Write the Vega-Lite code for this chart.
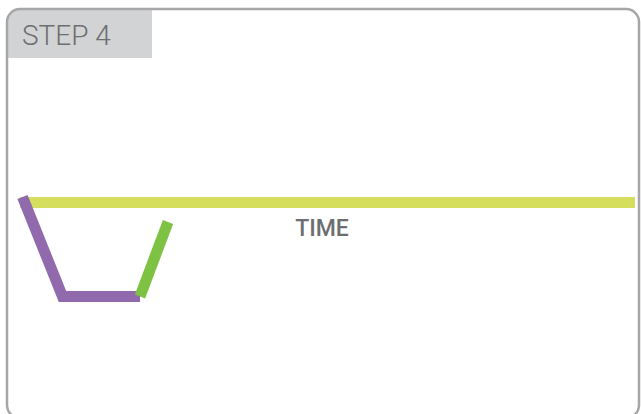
{
  "$schema": "https://vega.github.io/schema/vega-lite/v6.json",
  "width": 641,
  "height": 414,
  "padding": 0,
  "autosize": {"type": "none"},
  "background": "white",
  "config": {"view": {"stroke": null}},
  "datasets": {
    "shapes": [
      {"name": "tab", "x": 7, "x2": 152, "y": 9, "y2": 58},
      {"name": "frame", "x": 7, "x2": 639, "y": 9, "y2": 418}
    ],
    "lines": [
      {"series": "baseline", "order": 1, "x": 20, "y": 202.5},
      {"series": "baseline", "order": 2, "x": 635, "y": 202.5},
      {"series": "down", "order": 1, "x": 22.5, "y": 197},
      {"series": "down", "order": 2, "x": 62.5, "y": 296.5},
      {"series": "down", "order": 3, "x": 140, "y": 296.5},
      {"series": "up", "order": 1, "x": 140, "y": 296.5},
      {"series": "up", "order": 2, "x": 168, "y": 222}
    ],
    "labels": [
      {"label": "STEP 4", "x": 22, "y": 45, "kind": "step"},
      {"label": "TIME", "x": 322, "y": 236, "kind": "axis"}
    ]
  },
  "encoding": {
    "x": {"field": "x", "type": "quantitative", "scale": {"domain": [0, 641]}, "axis": null},
    "y": {"field": "y", "type": "quantitative", "scale": {"domain": [0, 414], "reverse": true}, "axis": null}
  },
  "layer": [
    {
      "data": {"name": "shapes"},
      "transform": [{"filter": "datum.name === 'tab'"}],
      "mark": {"type": "rect", "fill": "#d1d3d4", "cornerRadiusTopLeft": 12},
      "encoding": {"x2": {"field": "x2"}, "y2": {"field": "y2"}}
    },
    {
      "data": {"name": "shapes"},
      "transform": [{"filter": "datum.name === 'frame'"}],
      "mark": {"type": "rect", "fill": null, "fillOpacity": 0, "stroke": "#a7a7a9", "strokeWidth": 2.5, "cornerRadius": 13},
      "encoding": {"x2": {"field": "x2"}, "y2": {"field": "y2"}}
    },
    {
      "data": {"name": "lines"},
      "transform": [{"filter": "datum.series === 'baseline'"}],
      "mark": {"type": "line", "color": "#d5df5d", "strokeWidth": 11, "strokeCap": "butt"},
      "encoding": {"order": {"field": "order", "type": "quantitative"}}
    },
    {
      "data": {"name": "lines"},
      "transform": [{"filter": "datum.series === 'down'"}],
      "mark": {"type": "line", "color": "#9169ad", "strokeWidth": 11, "strokeCap": "butt", "strokeJoin": "miter"},
      "encoding": {"order": {"field": "order", "type": "quantitative"}}
    },
    {
      "data": {"name": "lines"},
      "transform": [{"filter": "datum.series === 'up'"}],
      "mark": {"type": "line", "color": "#7dc242", "strokeWidth": 11, "strokeCap": "butt"},
      "encoding": {"order": {"field": "order", "type": "quantitative"}}
    },
    {
      "data": {"name": "labels"},
      "transform": [{"filter": "datum.kind === 'step'"}],
      "mark": {"type": "text", "align": "left", "baseline": "alphabetic", "font": "Roboto", "fontWeight": 300, "fontSize": 28, "color": "#6d6e71"},
      "encoding": {"text": {"field": "label"}}
    },
    {
      "data": {"name": "labels"},
      "transform": [{"filter": "datum.kind === 'axis'"}],
      "mark": {"type": "text", "align": "center", "baseline": "alphabetic", "font": "Roboto", "fontWeight": 500, "fontSize": 23, "color": "#6d6e71"},
      "encoding": {"text": {"field": "label"}}
    }
  ]
}
